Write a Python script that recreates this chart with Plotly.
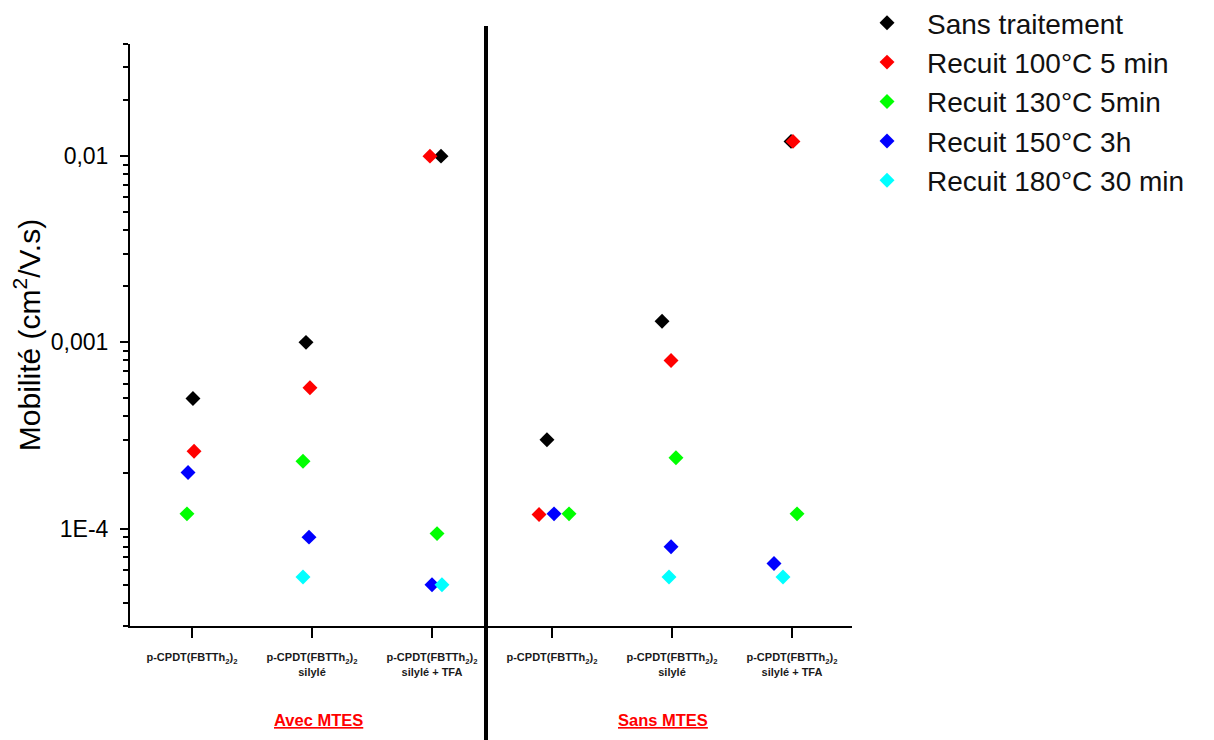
import plotly.graph_objects as go

# Categories (x positions 1..6)
categories = [
    "p-CPDT(FBTTh<sub>2</sub>)<sub>2</sub>",
    "p-CPDT(FBTTh<sub>2</sub>)<sub>2</sub><br>silylé",
    "p-CPDT(FBTTh<sub>2</sub>)<sub>2</sub><br>silylé + TFA",
    "p-CPDT(FBTTh<sub>2</sub>)<sub>2</sub>",
    "p-CPDT(FBTTh<sub>2</sub>)<sub>2</sub><br>silylé",
    "p-CPDT(FBTTh<sub>2</sub>)<sub>2</sub><br>silylé + TFA",
]
cat_pos = [1, 2, 3, 4, 5, 6]
group_labels = ["Avec MTES", "Sans MTES"]
group_centers = [2.05, 4.925]

series_names = [
    "Sans traitement",
    "Recuit 100°C 5 min",
    "Recuit 130°C 5min",
    "Recuit 150°C 3h",
    "Recuit 180°C 30 min",
]

# Mobility values (cm²/V.s)
sans_traitement = [5.0e-4, 1.0e-3, 1.0e-2, 3.0e-4, 1.3e-3, 1.2e-2]
recuit_100 = [2.6e-4, 5.7e-4, 1.0e-2, 1.19e-4, 8.0e-4, 1.2e-2]
recuit_130 = [1.2e-4, 2.3e-4, 9.4e-5, 1.2e-4, 2.4e-4, 1.2e-4]
recuit_150 = [2.0e-4, 9.0e-5, 5.0e-5, 1.2e-4, 8.0e-5, 6.5e-5]
recuit_180 = [None, 5.5e-5, 5.0e-5, None, 5.5e-5, 5.5e-5]

# Horizontal jitter of each point within its category (category units)
jit_sans = [0.008, -0.05, 0.075, -0.042, -0.083, -0.008]
jit_100 = [0.017, -0.017, -0.017, -0.108, -0.008, 0.008]
jit_130 = [-0.042, -0.075, 0.042, 0.142, 0.033, 0.042]
jit_150 = [-0.033, -0.025, 0.0, 0.017, -0.008, -0.15]
jit_180 = [0.0, -0.075, 0.083, 0.0, -0.025, -0.075]

colors = ["#000000", "#ff0000", "#00ff00", "#0000ff", "#00ffff"]

all_values = [sans_traitement, recuit_100, recuit_130, recuit_150, recuit_180]
all_jit = [jit_sans, jit_100, jit_130, jit_150, jit_180]

fig = go.Figure()
for i, (name, vals, jit, col) in enumerate(zip(series_names, all_values, all_jit, colors)):
    xs, ys = [], []
    for p, v, j in zip(cat_pos, vals, jit):
        if v is None:
            continue
        xs.append(p + j)
        ys.append(v)
    fig.add_trace(go.Scatter(
        x=xs, y=ys, mode="markers", name=name, legendgroup=name,
        marker=dict(symbol="diamond", size=11.5, color=col, line=dict(width=0)),
    ))

font_fam = "Liberation Sans, Arial, sans-serif"

fig.update_layout(
    width=1214, height=740,
    margin=dict(l=122, r=370, t=36, b=122, autoexpand=False),
    paper_bgcolor="white", plot_bgcolor="white",
    font=dict(family=font_fam, color="black"),
    showlegend=True,
    legend=dict(
        x=0.9931, y=1.079, xanchor="left", yanchor="top",
        font=dict(size=28, family=font_fam, color="#111111"),
        bgcolor="rgba(0,0,0,0)", itemwidth=70, tracegroupgap=0,
    ),
    xaxis=dict(
        range=[0.4833, 6.5], tickmode="array", tickvals=cat_pos, ticktext=categories,
        showline=True, linecolor="black", linewidth=2, mirror=False,
        ticks="outside", ticklen=10, tickwidth=2, tickcolor="black",
        showgrid=False, zeroline=False,
        tickfont=dict(size=11, family="Liberation Sans, Arial", color="#1a1a1a", weight="bold"),
        ticklabelstandoff=10,
    ),
    yaxis=dict(
        type="log", range=[-4.5229, -1.39794],
        tickmode="array", tickvals=[1e-4, 1e-3, 1e-2], ticktext=["1E-4", "0,001", "0,01"],
        showline=True, linecolor="black", linewidth=2,
        ticks="outside", ticklen=8, tickwidth=2, tickcolor="black",
        showgrid=False, zeroline=False,
        tickfont=dict(size=23, family=font_fam, color="black"),
        ticklabelstandoff=7,
        minor=dict(
            tickmode="array",
            tickvals=[3e-5, 4e-5, 5e-5, 6e-5, 7e-5, 8e-5, 9e-5,
                      2e-4, 3e-4, 4e-4, 5e-4, 6e-4, 7e-4, 8e-4, 9e-4,
                      2e-3, 3e-3, 4e-3, 5e-3, 6e-3, 7e-3, 8e-3, 9e-3,
                      2e-2, 3e-2, 4e-2],
            ticks="outside", ticklen=5, tickwidth=1.5, tickcolor="black", showgrid=False,
        ),
        title=dict(text="Mobilité (cm<sup>2</sup>/V.s)", font=dict(size=30, family=font_fam, color="black"), standoff=6),
    ),
)

# Vertical separator between the two groups
fig.add_shape(type="line", xref="x", yref="paper", x0=3.45, x1=3.45, y0=1.031, y1=-0.22,
              line=dict(color="black", width=4))

for lbl, cx in zip(group_labels, group_centers):
    fig.add_annotation(
        x=cx, xref="x", y=-0.162, yref="paper", yanchor="middle", showarrow=False,
        text=f"<b><u>{lbl}</u></b>", font=dict(size=16.5, family=font_fam, color="#ff0000"),
    )

fig.write_html("out.html")
